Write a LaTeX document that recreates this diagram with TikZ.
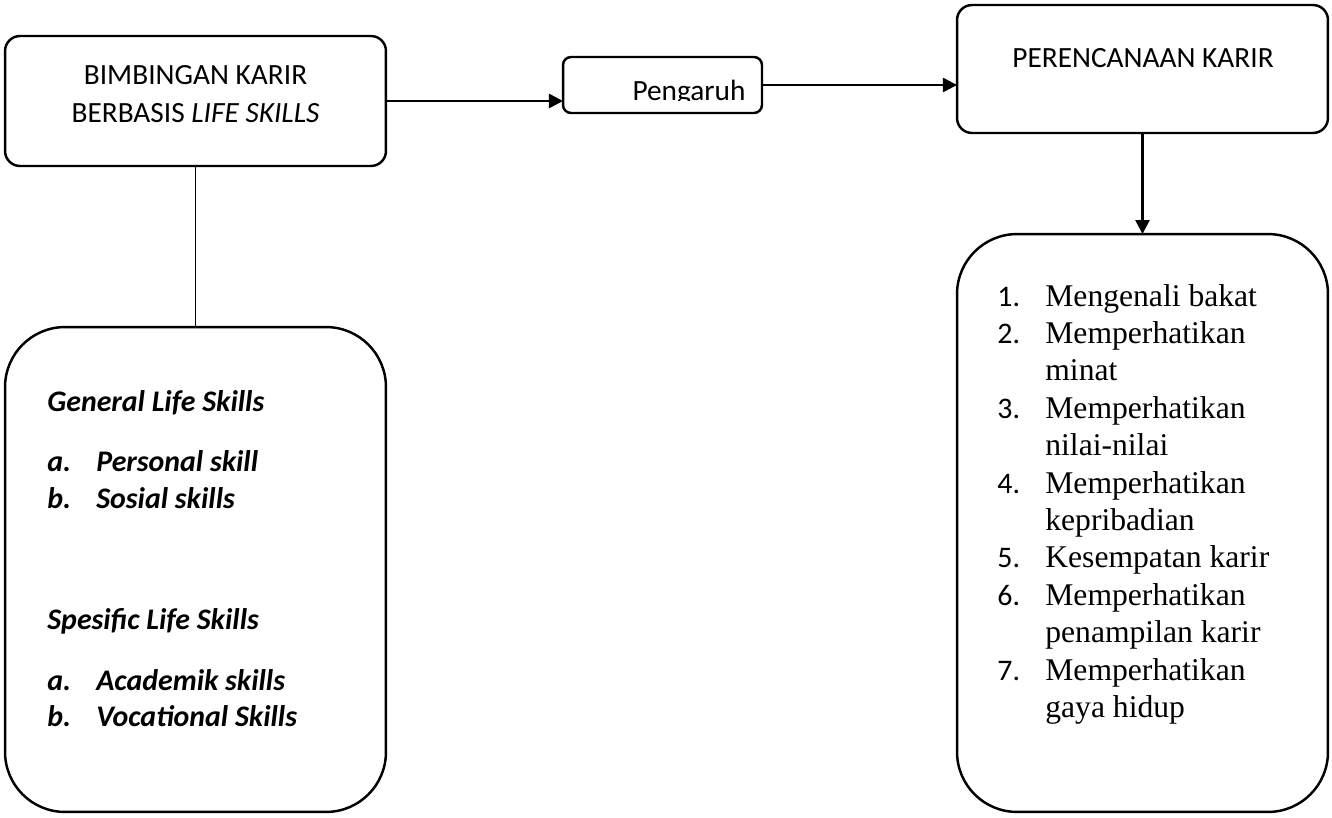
\documentclass[tikz,border=0pt]{standalone}
\usepackage{fontspec}
\setmainfont{Liberation Serif}
\newfontfamily\calibri{Carlito}
\usetikzlibrary{arrows.meta}

\tikzset{
  box/.style={draw, line width=1.4pt, inner sep=0pt, outer sep=0pt},
  lbl/.style={font=\calibri\fontsize{16.7}{21.5}\selectfont, align=center, inner sep=0pt},
  skill/.style={anchor=base west, inner sep=0pt, font=\calibri\bfseries\itshape\fontsize{17}{20}\selectfont},
  num/.style={anchor=base west, inner sep=0pt, font=\calibri\fontsize{17}{20}\selectfont},
  item/.style={anchor=base west, inner sep=0pt, font=\fontsize{18}{20}\selectfont},
  arr/.style={-{Triangle[length=8pt,width=8pt]}, line width=1.4pt},
}

\begin{document}
\begin{tikzpicture}[x=0.02cm,y=-0.02cm]
            \useasboundingbox (0,0) rectangle (1332,818);
            % boxes
            \node [box, rounded corners=0.3cm, minimum width=7.62cm, minimum height=2.6cm] (bimbingan) at (195.5,101) {};
            \node [box, rounded corners=0.16cm, minimum width=3.98cm, minimum height=1.12cm] (pengaruh) at (662.5,85) {};
            \node [box, rounded corners=0.3cm, minimum width=7.42cm, minimum height=2.56cm] (rencana) at (1142.5,69) {};
            \node [box, rounded corners=1.2cm, minimum width=7.62cm, minimum height=9.7cm] (skills) at (195.5,569.5) {};
            \node [box, rounded corners=1.2cm, minimum width=7.42cm, minimum height=11.56cm] (langkah) at (1142.5,523) {};
            % connectors
            \draw [arr] (bimbingan.east) -- (bimbingan.east -| pengaruh.west);
            \draw [arr] (pengaruh.east) -- (pengaruh.east -| rencana.west);
            \draw [arr] (rencana.south) -- (langkah.north);
            \draw [line width=0.7pt] (bimbingan.south) -- (skills.north);
            % labels
            \node [lbl] (tbimbingan) at (195.5,94) {BIMBINGAN KARIR\\BERBASIS \textit{LIFE SKILLS}};
            \begin{scope}
              \clip (565,59) rectangle (760,100);
              \node [lbl, anchor=base] (tpengaruh) at (689,100) {Pengaruh};
            \end{scope}
            \node [lbl] (trencana) at (1143,58) {PERENCANAAN KARIR};
            % life skills
            \node [skill] (general) at (47,411) {General Life Skills};
            \node [skill] (ga) at (47,471) {a.};
            \node [skill] (gat) at (96,471) {Personal skill};
            \node [skill] (gb) at (47,508) {b.};
            \node [skill] (gbt) at (96,508) {Sosial skills};
            \node [skill] (spesific) at (47,629) {Spesific Life Skills};
            \node [skill] (sa) at (47,690) {a.};
            \node [skill] (sat) at (96,690) {Academik skills};
            \node [skill] (sb) at (47,726) {b.};
            \node [skill] (sbt) at (96,726) {Vocational Skills};
            % perencanaan karir
            \node [num] (n1) at (997,306) {1.};
            \node [item] (i1) at (1045,306) {Mengenali bakat};
            \node [num] (n2) at (997,343.4) {2.};
            \node [item] (i2) at (1045,343.4) {Memperhatikan};
            \node [item] (i2b) at (1045,380.8) {minat};
            \node [num] (n3) at (997,418.2) {3.};
            \node [item] (i3) at (1045,418.2) {Memperhatikan};
            \node [item] (i3b) at (1045,455.6) {nilai-nilai};
            \node [num] (n4) at (997,493) {4.};
            \node [item] (i4) at (1045,493) {Memperhatikan};
            \node [item] (i4b) at (1045,530.4) {kepribadian};
            \node [num] (n5) at (997,567.8) {5.};
            \node [item] (i5) at (1045,567.8) {Kesempatan karir};
            \node [num] (n6) at (997,605.2) {6.};
            \node [item] (i6) at (1045,605.2) {Memperhatikan};
            \node [item] (i6b) at (1045,642.6) {penampilan karir};
            \node [num] (n7) at (997,680) {7.};
            \node [item] (i7) at (1045,680) {Memperhatikan};
            \node [item] (i7b) at (1045,717.4) {gaya hidup};
        \end{tikzpicture}
\end{document}
